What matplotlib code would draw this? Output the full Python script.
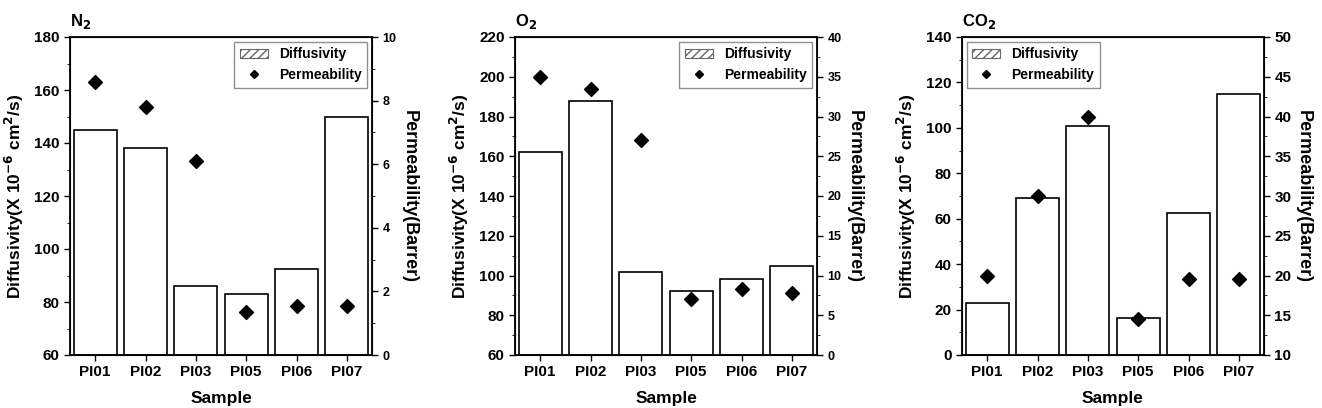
import matplotlib
matplotlib.use("Agg")
import matplotlib.pyplot as plt
from matplotlib.ticker import MultipleLocator
from matplotlib.patches import Patch
from matplotlib.lines import Line2D

plt.rcParams['font.family'] = ['Liberation Sans', 'DejaVu Sans']
plt.rcParams['font.weight'] = 'bold'

samples = ["PI01", "PI02", "PI03", "PI05", "PI06", "PI07"]

n2_diff = [145, 138, 86, 83, 92.5, 150]
n2_perm = [8.6, 7.8, 6.1, 1.35, 1.55, 1.55]

o2_diff = [162, 188, 102, 92, 98, 105]
o2_perm = [35, 33.5, 27, 7, 8.3, 7.8]

co2_diff = [23, 69, 101, 16.5, 62.5, 115]
co2_perm = [20, 30, 40, 14.5, 19.5, 19.5]

panels = [
    dict(title="N$_2$", diff=n2_diff, perm=n2_perm, ylim=(60, 180), ymaj=20, ymin=10,
         y2lim=(0, 10), y2maj=2, y2min=1, loc="upper right", left=70, r2size=9),
    dict(title="O$_2$", diff=o2_diff, perm=o2_perm, ylim=(60, 220), ymaj=20, ymin=10,
         y2lim=(0, 40), y2maj=5, y2min=2.5, loc="upper right", left=515, r2size=9),
    dict(title="CO$_2$", diff=co2_diff, perm=co2_perm, ylim=(0, 140), ymaj=20, ymin=10,
         y2lim=(10, 50), y2maj=5, y2min=2.5, loc="upper left", left=962, r2size=11),
]

W, H = 1322, 408
fig = plt.figure(figsize=(W / 100, H / 100), dpi=100)

for p in panels:
    ax = fig.add_axes([p["left"] / W, 1 - 355 / H, 302 / W, (355 - 37) / H])
    x = list(range(len(samples)))
    base = p["ylim"][0]
    heights = [d - base for d in p["diff"]]
    ax.bar(x, heights, bottom=base, width=0.85, color="white", edgecolor="black", linewidth=1.2)
    ax.set_xlim(-0.5, len(samples) - 0.5)
    ax.set_ylim(*p["ylim"])
    ax.yaxis.set_major_locator(MultipleLocator(p["ymaj"]))
    ax.yaxis.set_minor_locator(MultipleLocator(p["ymin"]))
    ax.set_xticks(x)
    ax.set_xticklabels(samples, fontsize=11, fontweight="bold")
    for lab in ax.get_yticklabels():
        lab.set_fontsize(11)
        lab.set_fontweight("bold")
    ax.tick_params(axis="both", direction="out", length=4, width=1)
    ax.tick_params(axis="y", which="minor", direction="out", length=2)
    ax.set_xlabel("Sample", fontsize=12.5, fontweight="bold", labelpad=8)
    ax.set_ylabel("Diffusivity(X 10$^{\\mathbf{-6}}$ cm$^{\\mathbf{2}}$/s)", fontsize=12.5, fontweight="bold",
                  labelpad=6)
    ax.text(0.0, 1.02, p["title"], transform=ax.transAxes, fontsize=12, fontweight="bold",
            ha="left", va="bottom")
    for s in ax.spines.values():
        s.set_linewidth(1.3)

    ax2 = ax.twinx()
    ax2.scatter(x, p["perm"], marker="D", s=50, color="black", zorder=5)
    ax2.set_ylim(*p["y2lim"])
    ax2.yaxis.set_major_locator(MultipleLocator(p["y2maj"]))
    ax2.yaxis.set_minor_locator(MultipleLocator(p["y2min"]))
    ax2.tick_params(axis="y", direction="out", length=4, width=1, labelsize=p["r2size"])
    ax2.tick_params(axis="y", which="minor", direction="out", length=2)
    ax2.set_ylabel("Permeability(Barrer)", fontsize=13, fontweight="bold", rotation=270, labelpad=15)

    handles = [Patch(facecolor="white", edgecolor="0.4", hatch="////", linewidth=0.8),
               Line2D([], [], marker="D", color="black", linestyle="none", markersize=4)]
    leg = ax2.legend(handles, ["Diffusivity", "Permeability"], loc=p["loc"],
                     frameon=True, fancybox=False, edgecolor="0.45", borderaxespad=0.35,
                     handlelength=2.0, prop={"weight": "bold", "size": 10})
    leg.get_frame().set_linewidth(1.0)

fig.savefig("out.png", dpi=100)
